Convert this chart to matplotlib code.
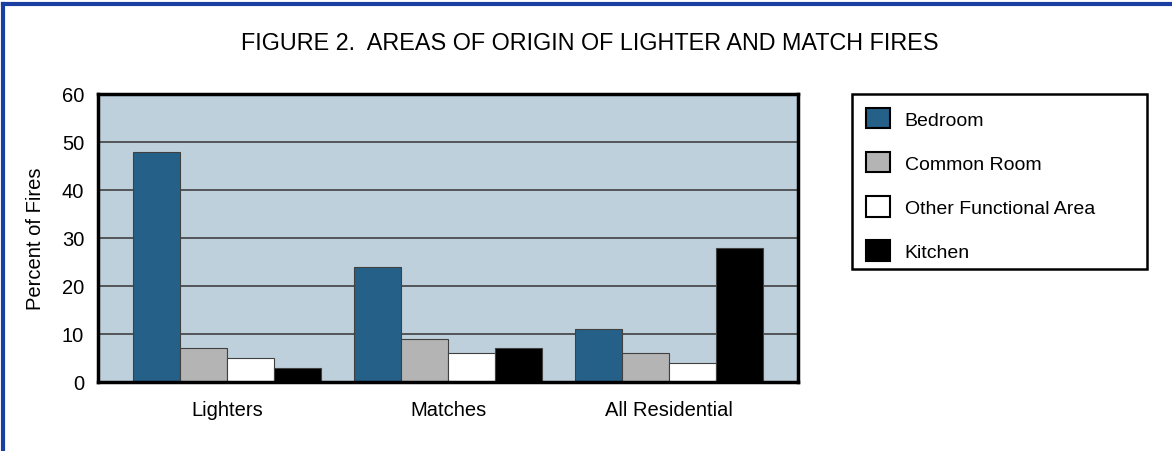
import numpy as np
import matplotlib.pyplot as plt
from matplotlib.patches import Patch, Rectangle
from matplotlib.lines import Line2D

plt.rcParams['font.family'] = ['Liberation Sans', 'DejaVu Sans']

# data
groups = ['Lighters', 'Matches', 'All Residential']
series = ['Bedroom', 'Common Room', 'Other Functional Area', 'Kitchen']
bedroom = [48, 24, 11]
common_room = [7, 9, 6]
other_area = [5, 6, 4]
kitchen = [3, 7, 28]
colors = ['#256088', '#b4b4b4', '#ffffff', '#000000']

W, H = 1172, 452
fig = plt.figure(figsize=(W/100, H/100), dpi=100)
ax = fig.add_axes([98/W, 1-383/H, 700/W, 288/H])
ax.set_facecolor('#bed0dc')

x = np.arange(len(groups))
w = 0.213
vals = [bedroom, common_room, other_area, kitchen]
for i, (v, c) in enumerate(zip(vals, colors)):
    ax.bar(x + (i - 1.5) * w, v, w, color=c, edgecolor='#404040', linewidth=0.8,
           zorder=3, label=series[i])

ax.set_ylim(0, 60)
ax.set_xlim(-0.586, 2.586)
ax.set_yticks(range(0, 61, 10))
ax.set_xticks(x)
ax.set_xticklabels(groups, fontsize=14.5)
ax.tick_params(axis='y', labelsize=14.5, length=0, pad=10)
ax.tick_params(axis='x', length=0, pad=13)
ax.yaxis.grid(True, color='#404040', linewidth=1.2, zorder=1)
for s in ax.spines.values():
    s.set_linewidth(2.5)
    s.set_color('black')
    s.set_zorder(5)
ax.set_ylabel('Percent of Fires', fontsize=14.5, labelpad=12)

fig.text(590/W, 1-43/H, 'FIGURE 2.  AREAS OF ORIGIN OF LIGHTER AND MATCH FIRES',
         ha='center', va='center', fontsize=16.8)

# legend (box drawn separately)
fig.add_artist(Rectangle((852/W, 1-270/H), 295/W, 175/H, transform=fig.transFigure,
                         facecolor='white', edgecolor='black', linewidth=1.8))
handles = [Patch(facecolor=c, edgecolor='black', linewidth=1.5) for c in colors]
leg = fig.legend(handles, series, loc='upper left',
                 bbox_to_anchor=(856/W, 1-99/H), fontsize=14, frameon=False,
                 handlelength=1.25, handleheight=1.25, labelspacing=1.2,
                 handletextpad=0.75, borderpad=0.5, borderaxespad=0)

# outer blue frame
fig.add_artist(Line2D([3/W, 1], [1-5/H, 1-5/H], color='#1a3fa0', linewidth=3))
fig.add_artist(Line2D([3/W, 3/W], [0, 1-5/H], color='#1a3fa0', linewidth=3))

fig.savefig('out.png', dpi=100)
